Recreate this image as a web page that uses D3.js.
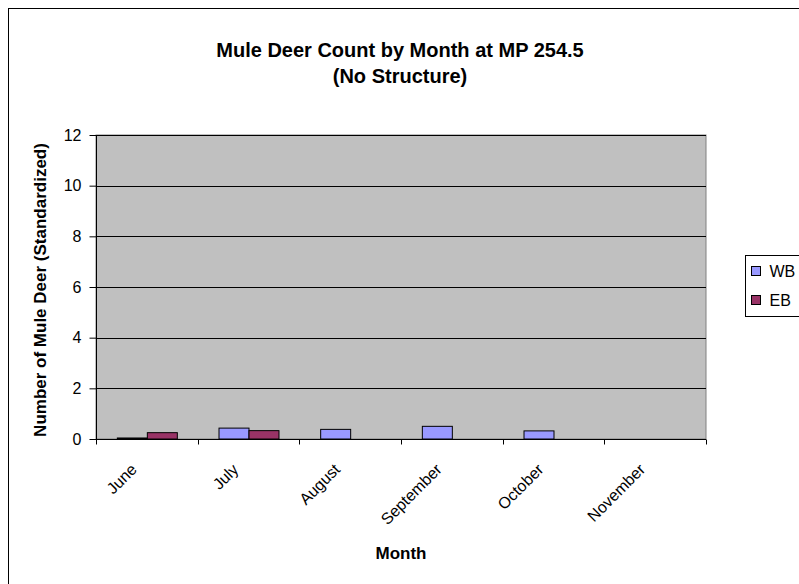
<!DOCTYPE html>
<html>
<head>
<meta charset="utf-8">
<script src="https://cdn.jsdelivr.net/npm/d3@7"></script>
<style>
  html, body { margin: 0; padding: 0; background: #fff; }
  svg { display: block; font-family: "Liberation Sans", Arial, sans-serif; }
</style>
</head>
<body>
<svg id="chart" width="799" height="584"></svg>
<script>
// Monthly counts, standardized
const months = ["June", "July", "August", "September", "October", "November"];
const seriesNames = ["WB", "EB"];
const wbValues = [0.04, 0.43, 0.38, 0.5, 0.32, 0];
const ebValues = [0.25, 0.33, 0, 0, 0, 0];
const yTicks = [0, 2, 4, 6, 8, 10, 12];
const seriesColors = ["#9999FF", "#993366"];

const FONT = "'Liberation Sans', Arial, sans-serif";
const svg = d3.select("#chart");

// outer chart frame
svg.append("rect")
  .attr("x", 8.5).attr("y", 8.5)
  .attr("width", 820).attr("height", 600)
  .attr("fill", "#fff").attr("stroke", "#000").attr("stroke-width", 1);

const plot = { left: 96, right: 706, top: 135, bottom: 439 };

const x0 = d3.scaleBand().domain(months).range([plot.left, plot.right]).paddingInner(0).paddingOuter(0);
const groupPad = 0.205;
const x1 = d3.scaleBand().domain(seriesNames)
  .range([x0.bandwidth() * groupPad, x0.bandwidth() * (1 - groupPad)]);
const y = d3.scaleLinear().domain([0, 12]).range([plot.bottom, plot.top]);

// plot background
svg.append("rect")
  .attr("x", plot.left).attr("y", plot.top)
  .attr("width", plot.right - plot.left).attr("height", plot.bottom - plot.top)
  .attr("fill", "#C0C0C0").attr("stroke", "#808080").attr("stroke-width", 1);

// horizontal gridlines
svg.append("g").selectAll("line")
  .data(yTicks.filter(t => t > 0))
  .join("line")
  .attr("x1", plot.left).attr("x2", plot.right)
  .attr("y1", d => Math.round(y(d)) + 0.5).attr("y2", d => Math.round(y(d)) + 0.5)
  .attr("stroke", "#000").attr("stroke-width", 1);

// bars
const data = months.map((m, i) => ({ month: m, values: [wbValues[i], ebValues[i]] }));
svg.append("g").selectAll("g")
  .data(data)
  .join("g")
  .attr("transform", d => `translate(${x0(d.month)},0)`)
  .selectAll("rect")
  .data(d => d.values.map((v, j) => ({ key: seriesNames[j], value: v, color: seriesColors[j] })).filter(d => d.value > 0))
  .join("rect")
  .attr("x", d => x1(d.key) + 0.5)
  .attr("y", d => y(d.value))
  .attr("width", x1.bandwidth())
  .attr("height", d => y(0) - y(d.value))
  .attr("fill", d => d.color)
  .attr("stroke", "#000").attr("stroke-width", 1);

// y axis
const yAxis = svg.append("g")
  .attr("transform", `translate(${plot.left + 0.5},0)`)
  .call(d3.axisLeft(y).tickValues(yTicks).tickSize(7).tickPadding(8).tickFormat(d3.format("d")));
yAxis.select(".domain").attr("stroke", "#000").attr("d", `M0,${plot.top}V${plot.bottom}`);
yAxis.selectAll(".tick line").attr("stroke", "#000");
yAxis.selectAll("text").attr("font-size", 16).attr("fill", "#000")
  .attr("font-family", FONT);

// x axis
const xAxis = svg.append("g")
  .attr("transform", `translate(0,${plot.bottom + 0.5})`);
xAxis.append("line")
  .attr("x1", plot.left).attr("x2", plot.right)
  .attr("stroke", "#000");
xAxis.selectAll("line.tick")
  .data(months.concat(["end"]))
  .join("line")
  .attr("class", "tick")
  .attr("x1", (d, i) => Math.round(plot.left + i * x0.bandwidth()) + 0.5)
  .attr("x2", (d, i) => Math.round(plot.left + i * x0.bandwidth()) + 0.5)
  .attr("y1", 0).attr("y2", 5)
  .attr("stroke", "#000");
xAxis.selectAll("text")
  .data(months)
  .join("text")
  .attr("text-anchor", "end")
  .attr("font-size", 16)
  .attr("transform", d => `translate(${x0(d) + x0.bandwidth() / 2 - 9},${31}) rotate(-45)`)
  .text(d => d);

// titles
svg.append("text")
  .attr("x", 400).attr("y", 57)
  .attr("text-anchor", "middle").attr("font-size", 20).attr("font-weight", "bold")
  .text("Mule Deer Count by Month at MP 254.5");
svg.append("text")
  .attr("x", 400).attr("y", 83)
  .attr("text-anchor", "middle").attr("font-size", 20).attr("font-weight", "bold")
  .text("(No Structure)");

svg.append("text")
  .attr("transform", `translate(46,290) rotate(-90)`)
  .attr("text-anchor", "middle").attr("font-size", 17).attr("font-weight", "bold")
  .text("Number of Mule Deer (Standardized)");

svg.append("text")
  .attr("x", 401).attr("y", 559)
  .attr("text-anchor", "middle").attr("font-size", 17).attr("font-weight", "bold")
  .text("Month");

// legend
const legend = svg.append("g").attr("transform", "translate(745.5,255.5)");
legend.append("rect")
  .attr("width", 70).attr("height", 61)
  .attr("fill", "#fff").attr("stroke", "#000");
const items = legend.selectAll("g.item")
  .data(seriesNames)
  .join("g")
  .attr("class", "item")
  .attr("transform", (d, i) => `translate(6,${11 + i * 29})`);
items.append("rect")
  .attr("width", 9).attr("height", 9)
  .attr("fill", (d, i) => seriesColors[i]).attr("stroke", "#000");
items.append("text")
  .attr("x", 18).attr("y", 10.5)
  .attr("font-size", 16)
  .text(d => d);
</script>
</body>
</html>
